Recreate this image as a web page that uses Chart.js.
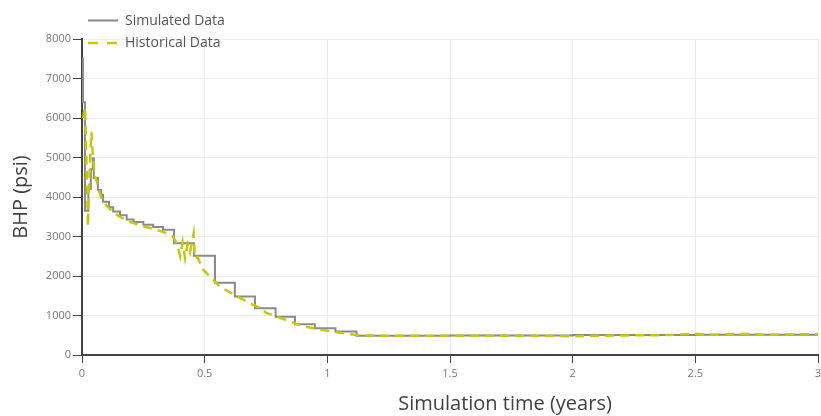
<!DOCTYPE html>
<html>
<head>
<meta charset="utf-8">
<title>BHP</title>
<script src="https://cdn.jsdelivr.net/npm/chart.js@4/dist/chart.umd.min.js"></script>
<style>
  html, body { margin: 0; padding: 0; background: #fff; }
  #wrap { width: 821px; height: 416px; position: relative; }
</style>
</head>
<body>
<div id="wrap"><canvas id="bhp-chart" width="821" height="416"></canvas></div>
<script>
// simulated BHP (stepped, value holds from each time until the next)
const simTime = [0, 0.004, 0.012, 0.026, 0.036, 0.044, 0.048, 0.065, 0.078, 0.086, 0.11, 0.127,
  0.155, 0.182, 0.21, 0.25, 0.29, 0.33, 0.375, 0.456, 0.542, 0.623, 0.705, 0.789, 0.868,
  0.949, 1.033, 1.119, 1.5, 2.0, 2.5, 3.0];
const simBhp = [7500, 6400, 3650, 4200, 4700, 4980, 4480, 4180, 4050, 3880, 3740, 3630,
  3540, 3430, 3370, 3300, 3240, 3170, 2830, 2510, 1830, 1480, 1185, 970, 780,
  680, 595, 490, 495, 505, 515, 520];

// historical (measured) BHP
const histTime = [0.005, 0.012, 0.018, 0.024, 0.03, 0.038, 0.045, 0.052, 0.06, 0.07, 0.08, 0.1,
  0.13, 0.16, 0.2, 0.25, 0.3, 0.34, 0.37, 0.38, 0.39, 0.40, 0.41, 0.42, 0.43, 0.44, 0.455,
  0.46, 0.47, 0.494, 0.562, 0.63, 0.711, 0.752, 0.834, 0.901, 0.969, 1.037, 1.105, 1.16,
  1.2, 1.4, 1.6, 1.8, 2.0, 2.2, 2.4, 2.5, 2.55, 2.6, 2.7, 2.8, 3.0];
const histBhp = [6000, 6280, 5000, 3250, 4500, 5650, 5000, 4550, 4400, 4150, 3950, 3780,
  3600, 3480, 3360, 3260, 3180, 3090, 3000, 2900, 2750, 2500, 2850, 2450, 2800, 2600, 3080,
  2450, 2480, 2160, 1730, 1490, 1230, 1065, 880, 730, 645, 575, 520, 495,
  490, 485, 490, 488, 475, 495, 505, 540, 510, 520, 535, 510, 530];

const xTicks = [0, 0.5, 1, 1.5, 2, 2.5, 3];
const yTicks = [0, 1000, 2000, 3000, 4000, 5000, 6000, 7000, 8000];

const SIM_COLOR = '#8a8a8a';
const HIST_COLOR = '#c8c80a';
const FONT = '"Open Sans", "Noto Sans", sans-serif';

function toPoints(xs, ys) {
  return xs.map((x, i) => ({ x: x, y: ys[i] }));
}

// legend and axis titles drawn straight onto the canvas
const annotations = {
  id: 'annotations',
  afterDraw(chart) {
    const ctx = chart.ctx;
    ctx.save();

    // legend
    ctx.lineWidth = 2;
    ctx.strokeStyle = SIM_COLOR;
    ctx.beginPath();
    ctx.moveTo(88, 20.5);
    ctx.lineTo(118, 20.5);
    ctx.stroke();

    ctx.lineWidth = 2.5;
    ctx.strokeStyle = HIST_COLOR;
    ctx.setLineDash([10, 9]);
    ctx.beginPath();
    ctx.moveTo(88, 43);
    ctx.lineTo(118, 43);
    ctx.stroke();
    ctx.setLineDash([]);

    ctx.fillStyle = '#555';
    ctx.font = '14px ' + FONT;
    ctx.textAlign = 'left';
    ctx.textBaseline = 'middle';
    ctx.fillText('Simulated Data', 125, 21);
    ctx.fillText('Historical Data', 125, 43);

    // axis titles
    ctx.fillStyle = '#404040';
    ctx.font = '20px ' + FONT;
    ctx.textAlign = 'center';
    ctx.fillText('Simulation time (years)', 505, 404);

    ctx.translate(21, 197);
    ctx.rotate(-Math.PI / 2);
    ctx.fillText('BHP (psi)', 0, 0);
    ctx.restore();
  }
};

new Chart(document.getElementById('bhp-chart').getContext('2d'), {
  type: 'line',
  data: {
    datasets: [
      {
        label: 'Historical Data',
        data: toPoints(histTime, histBhp),
        borderColor: HIST_COLOR,
        borderWidth: 2.5,
        borderDash: [9, 6],
        pointRadius: 0,
        tension: 0,
        order: 0
      },
      {
        label: 'Simulated Data',
        data: toPoints(simTime, simBhp),
        borderColor: SIM_COLOR,
        borderWidth: 2,
        stepped: 'before',
        pointRadius: 0,
        order: 1
      }
    ]
  },
  options: {
    responsive: false,
    animation: false,
    layout: { padding: { left: 0, top: 39, right: 3, bottom: 0 } },
    plugins: {
      legend: { display: false },
      tooltip: { enabled: false }
    },
    scales: {
      x: {
        type: 'linear',
        min: 0,
        max: 3,
        afterFit: (s) => {
          s.height = 61;
          s.paddingLeft = 0;
          s.paddingRight = 0;
        },
        afterBuildTicks: (s) => { s.ticks = xTicks.map(v => ({ value: v })); },
        grid: { color: '#ececec', tickColor: '#444', tickLength: 8 },
        border: { color: '#444', width: 2 },
        ticks: {
          color: '#777',
          padding: 4,
          maxRotation: 0,
          font: { family: FONT, size: 11 },
          callback: (v) => String(v)
        }
      },
      y: {
        min: 0,
        max: 8000,
        afterFit: (s) => {
          s.width = 82;
          s.paddingTop = 0;
          s.paddingBottom = 0;
        },
        afterBuildTicks: (s) => { s.ticks = yTicks.map(v => ({ value: v })); },
        grid: { color: '#ececec', tickColor: '#444', tickLength: 9 },
        border: { color: '#444', width: 2 },
        ticks: {
          color: '#777',
          padding: 2,
          font: { family: FONT, size: 11 },
          callback: (v) => String(v)
        }
      }
    }
  },
  plugins: [annotations]
});
</script>
</body>
</html>
